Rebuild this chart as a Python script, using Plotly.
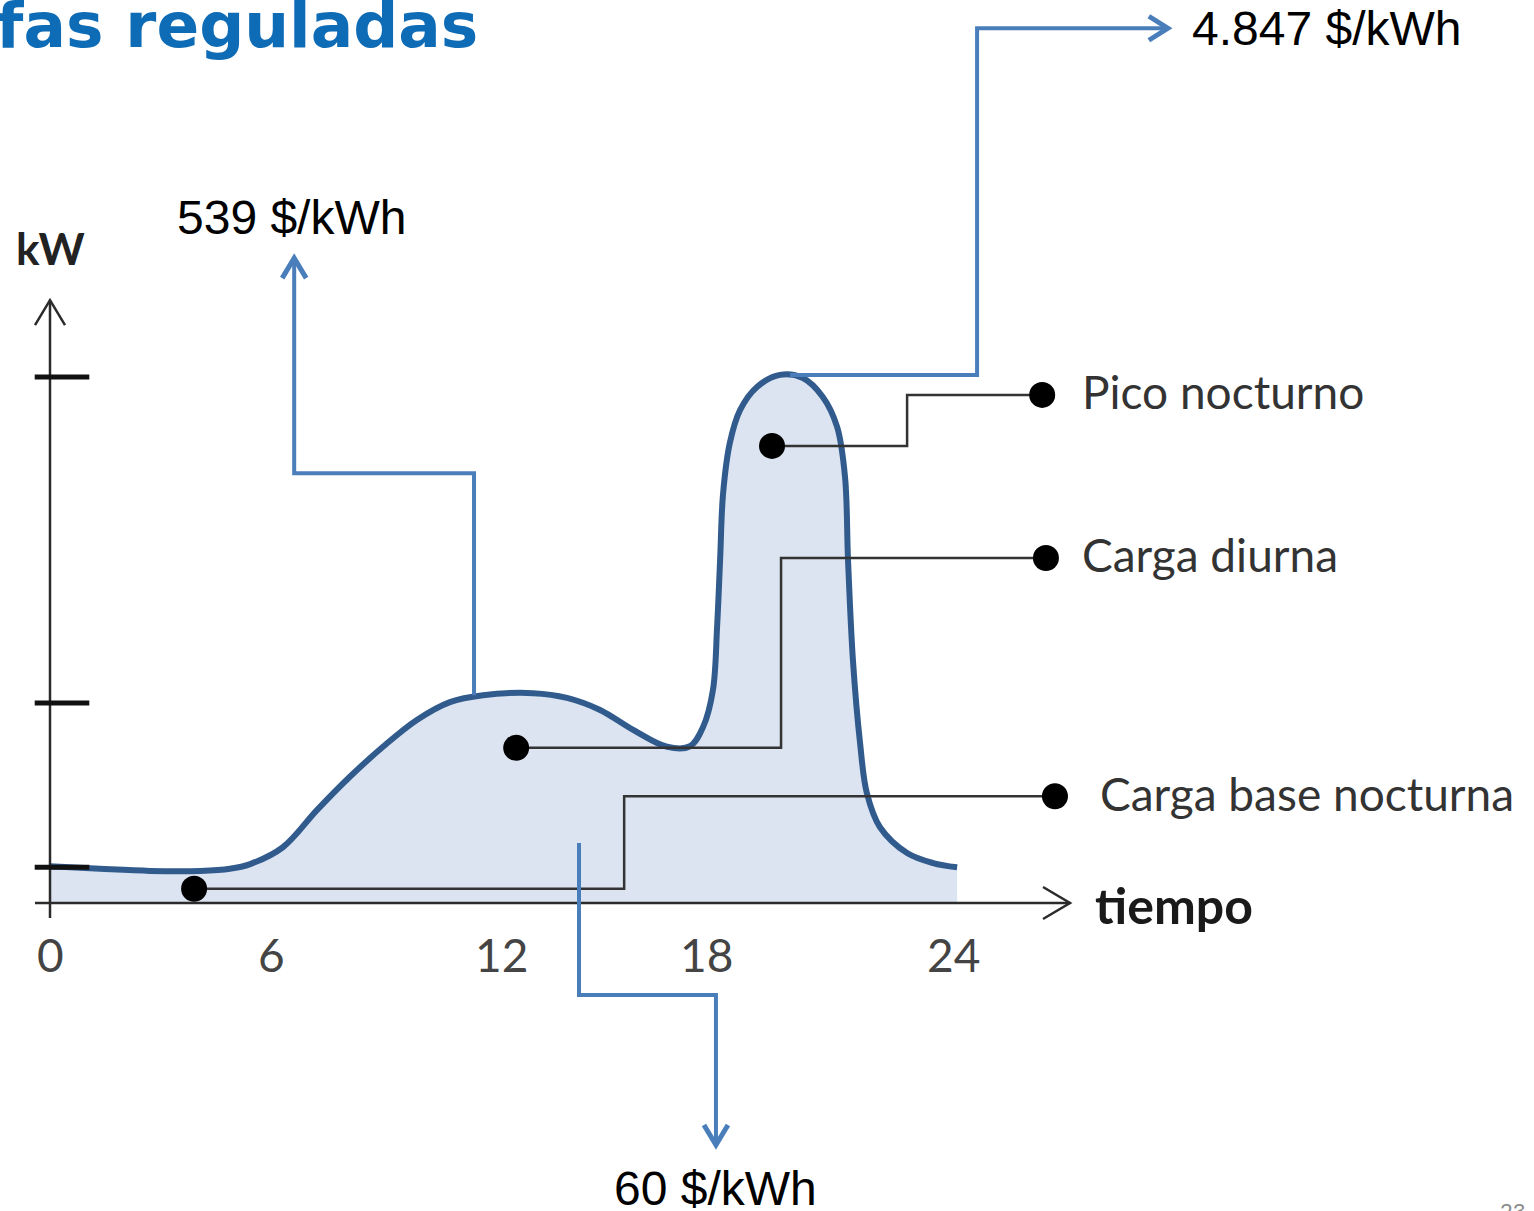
import plotly.graph_objects as go

# ---------------- data (hours, kW) ----------------
hours = [0.00, 1.33, 2.66, 3.99, 4.78, 5.32, 6.19, 7.10, 7.97, 8.85, 9.75, 10.63,
         11.51, 12.84, 13.74, 14.62, 15.50, 16.40, 17.01, 17.36, 17.62, 17.73,
         17.81, 17.89, 18.07, 18.34, 18.79, 19.40, 20.01, 20.54, 20.92, 21.13,
         21.21, 21.34, 21.53, 21.71, 22.06, 22.78, 23.47, 24.11]
load_kw = [0.70, 0.65, 0.61, 0.61, 0.65, 0.74, 1.06, 1.77, 2.40, 2.97, 3.48, 3.82,
           3.95, 3.99, 3.90, 3.67, 3.29, 2.97, 2.98, 3.35, 4.05, 5.25,
           6.52, 7.79, 8.75, 9.37, 9.81, 10.04, 9.98, 9.62, 9.05, 8.10,
           6.52, 4.62, 3.04, 2.09, 1.44, 0.95, 0.76, 0.68]

ytick_kw = [0.68, 3.80, 10.00]
xtick_labels = ["0", "6", "12", "18", "24"]
xtick_pos = [0.0, 5.90, 12.01, 17.46, 24.0]

# load-component callouts
comp_names = ["Pico nocturno", "Carga diurna", "Carga base nocturna"]
comp_dot_h = [19.19, 12.39, 3.83]
comp_dot_kw = [8.69, 2.95, 0.27]
comp_elbow_h = [22.78, 19.43, 15.26]
comp_end_kw = [9.66, 6.56, 2.03]
comp_end_h = [26.37, 26.47, 26.71]
comp_label_h = [27.38, 27.38, 27.85]

# tariff callouts (blue elbow arrows)
tariff_labels = ["539 $/kWh", "4.847 $/kWh", "60 $/kWh"]
tariff_path_h = [[11.27, 11.27, 6.49, 6.49],
                 [19.67, 24.64, 24.64, 29.71],
                 [14.06, 14.06, 17.70, 17.70]]
tariff_path_kw = [[3.95, 8.17, 8.17, 12.26],
                  [10.04, 10.04, 16.63, 16.63],
                  [1.14, -1.75, -1.75, -4.60]]
tariff_label_h = [6.43, 30.30, 17.70]
tariff_label_kw = [13.04, 16.63, -5.42]
tariff_label_anchor = ["center", "left", "center"]

# ---------------- layout scale (pixels) ----------------
W, H = 1534, 1211
X0_PX, Y0_PX = 50, 903          # pixel of (0 h, 0 kW)
PX_H, PX_KW = 37.625, 52.6      # pixels per hour / per kW
x_range = [-X0_PX / PX_H, (W - X0_PX) / PX_H]
y_range = [(Y0_PX - H) / PX_KW, Y0_PX / PX_KW]

def dh(px):
    return px / PX_H

def dk(px):
    return px / PX_KW

AX = "#2b2b2b"
BLUE = "#4A7EBB"
CURVE = "#325B8D"
FILL = "#DCE4F1"

fig = go.Figure()

# load curve with fill
fig.add_trace(go.Scatter(x=hours, y=load_kw, mode="lines", fill="tozeroy",
                         fillcolor=FILL, line=dict(color=CURVE, width=6, shape="spline", smoothing=1.0),
                         hoverinfo="skip"))

# axes lines
x_end = 27.11
y_top = 11.46
fig.add_trace(go.Scatter(x=[dh(-15), x_end], y=[0, 0], mode="lines",
                         line=dict(color=AX, width=2.5), hoverinfo="skip"))
fig.add_trace(go.Scatter(x=[x_end - dh(27), x_end, x_end - dh(27)], y=[dk(16), 0, -dk(16)],
                         mode="lines", line=dict(color=AX, width=2.5), hoverinfo="skip"))
fig.add_trace(go.Scatter(x=[0, 0], y=[-dk(15), y_top], mode="lines",
                         line=dict(color=AX, width=2.5), hoverinfo="skip"))
fig.add_trace(go.Scatter(x=[-dh(15), 0, dh(15)], y=[y_top - dk(25), y_top, y_top - dk(25)],
                         mode="lines", line=dict(color=AX, width=2.5), hoverinfo="skip"))

# y ticks
fig.add_trace(go.Scatter(x=[dh(12)] * len(ytick_kw), y=ytick_kw, mode="markers",
                         marker=dict(symbol="line-ew", size=39, line=dict(color="#111111", width=5)),
                         hoverinfo="skip"))

# component callouts
for i, name in enumerate(comp_names):
    fig.add_trace(go.Scatter(
        x=[comp_dot_h[i], comp_elbow_h[i], comp_elbow_h[i], comp_end_h[i]],
        y=[comp_dot_kw[i], comp_dot_kw[i], comp_end_kw[i], comp_end_kw[i]],
        mode="lines", line=dict(color="#333333", width=2.5), hoverinfo="skip"))
    fig.add_trace(go.Scatter(x=[comp_dot_h[i], comp_end_h[i]], y=[comp_dot_kw[i], comp_end_kw[i]],
                             mode="markers", marker=dict(color="#000000", size=26), hoverinfo="skip"))
    fig.add_annotation(x=comp_label_h[i], y=comp_end_kw[i] + dk(3), text=name, showarrow=False,
                       xanchor="left", yanchor="middle",
                       font=dict(family="Lato", size=46, color="#333333"))

# tariff arrows
for i, lab in enumerate(tariff_labels):
    px_ = tariff_path_h[i]
    py_ = tariff_path_kw[i]
    fig.add_trace(go.Scatter(x=px_, y=py_, mode="lines",
                             line=dict(color=BLUE, width=4), hoverinfo="skip"))
    tx, ty = px_[-1], py_[-1]
    ddx, ddy = px_[-1] - px_[-2], py_[-1] - py_[-2]
    if abs(ddx) > 1e-9:   # horizontal arrow
        s = 1 if ddx > 0 else -1
        hx = [tx - s * dh(19), tx, tx - s * dh(19)]
        hy = [ty + dk(12), ty, ty - dk(12)]
    else:
        s = 1 if ddy > 0 else -1
        hx = [tx - dh(12), tx, tx + dh(12)]
        hy = [ty - s * dk(20), ty, ty - s * dk(20)]
    fig.add_trace(go.Scatter(x=hx, y=hy, mode="lines",
                             line=dict(color=BLUE, width=5), hoverinfo="skip"))
    fig.add_annotation(x=tariff_label_h[i], y=tariff_label_kw[i], text=lab, showarrow=False,
                       xanchor=tariff_label_anchor[i], yanchor="middle",
                       font=dict(family="Liberation Sans, Arial", size=48, color="#000000"))

# x tick labels
for lab, pos in zip(xtick_labels, xtick_pos):
    fig.add_annotation(x=pos, y=-dk(51), text=lab, showarrow=False, xanchor="center", yanchor="middle",
                       font=dict(family="Lato", size=46, color="#444444"))

# axis titles
fig.add_annotation(x=0, y=dk(655), text="<b>kW</b>", showarrow=False, xanchor="center", yanchor="middle",
                   font=dict(family="Lato", size=44, color="#222222"))
fig.add_annotation(x=dh(1043), y=-dk(2), text="<b>tiempo</b>", showarrow=False, xanchor="left",
                   yanchor="middle", font=dict(family="Lato", size=50, color="#1a1a1a"))

# slide title (cropped) and page number
fig.add_annotation(xref="paper", yref="paper", x=-0.004, y=1.011, text="<b>fas reguladas</b>",
                   showarrow=False, xanchor="left", yanchor="top",
                   font=dict(family="DejaVu Sans", size=63, color="#0E6BB5"))
fig.add_annotation(xref="paper", yref="paper", x=0.986, y=-0.012, text="23",
                   showarrow=False, xanchor="center", yanchor="bottom",
                   font=dict(family="Lato", size=22, color="#8a8a8a"))

fig.update_layout(
    width=W, height=H, margin=dict(l=0, r=0, t=0, b=0),
    paper_bgcolor="white", plot_bgcolor="white", showlegend=False,
    xaxis=dict(range=x_range, visible=False, fixedrange=True),
    yaxis=dict(range=y_range, visible=False, fixedrange=True),
)

fig.write_html("out.html", config={"displayModeBar": False},
               post_script="document.body.style.margin='0';document.body.style.overflow='hidden';")
